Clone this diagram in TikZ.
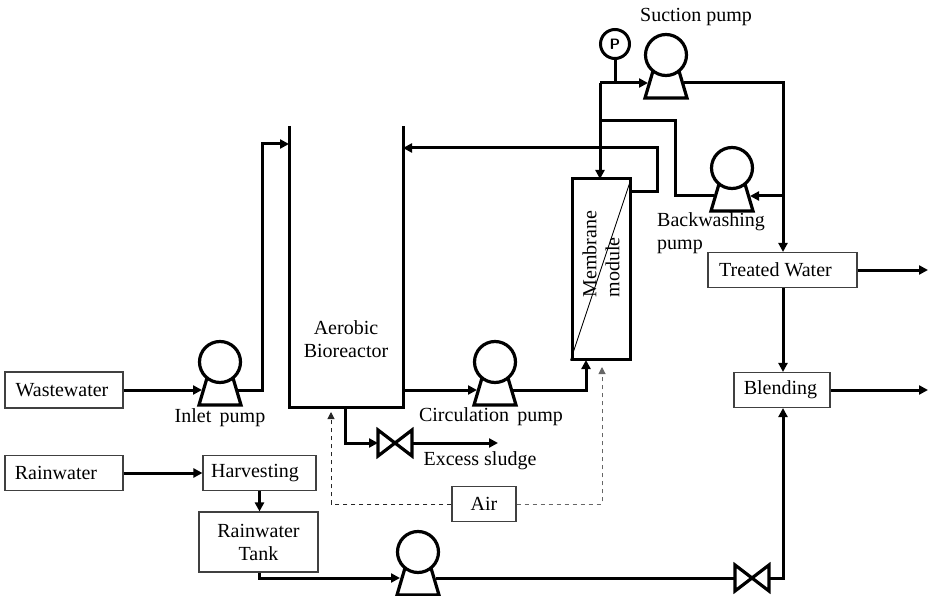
\documentclass[tikz,border=0pt]{standalone}
\usepackage{fontspec}
\setmainfont{Liberation Serif}
\usetikzlibrary{arrows.meta,calc}
\tikzset{
  pipe/.style={line width=3pt,line join=miter},
  flow/.style={pipe,-{Triangle[length=9pt,width=9pt]}},
  air/.style={line width=1pt,dash pattern=on 4pt off 4pt,-{Triangle[length=7pt,width=7pt]}},
  proc/.style={draw=black!75,line width=1.1pt,fill=white,inner sep=0pt,align=center,font=\fontsize{20}{23}\selectfont},
  lab/.style={inner sep=0pt,align=left,font=\fontsize{20}{23}\selectfont},
  pumphead/.style={circle,draw,line width=3.2pt,minimum size=41pt,inner sep=0pt,fill=white},
  symline/.style={line width=3.2pt,line join=miter}
}
\newcommand{\pumpsym}[3]{%
  \draw[symline,fill=white] (#2-13,#3+16) -- (#2-21,#3+43) -- (#2+21,#3+43) -- (#2+13,#3+16);
  \node[pumphead] (#1) at (#2,#3) {};
  \coordinate (#1-l) at (#2-18,#3+28);
  \coordinate (#1-r) at (#2+18,#3+28);
}
\newcommand{\valvesym}[3]{%
  \draw[symline] (#2-17,#3-13) -- (#2+17,#3+13) -- (#2+17,#3-13) -- (#2-17,#3+13) -- cycle;
  \coordinate (#1-l) at (#2-17,#3);
  \coordinate (#1-r) at (#2+17,#3);
}
\begin{document}
\begin{tikzpicture}[x=1pt,y=-1pt]
\useasboundingbox (0,0) rectangle (929,596);
% boxes
\node[proc,minimum width=118pt,minimum height=36pt] (waste) at (64,390) {Wastewater\hspace*{4pt}};
\node[proc,minimum width=118pt,minimum height=35pt] (rain) at (64,473) {Rainwater\hspace*{16pt}};
\node[proc,minimum width=113pt,minimum height=35pt] (harv) at (259.5,473) {Harvesting\hspace*{9pt}};
\node[proc,minimum width=119pt,minimum height=60pt] (tank) at (258.5,542) {Rainwater\\Tank};
\node[proc,minimum width=64pt,minimum height=35pt] (airbox) at (484,504) {Air};
\node[proc,minimum width=149pt,minimum height=35pt] (treated) at (782.5,270) {Treated Water\hspace*{14pt}};
\node[proc,minimum width=96pt,minimum height=35pt] (blend) at (782,390) {Blending\hspace*{3pt}};
% symbols
\pumpsym{inlet}{220}{362}
\pumpsym{circ}{495}{362}
\pumpsym{suction}{666}{55}
\pumpsym{back}{732}{168}
\pumpsym{rainp}{418}{552}
\valvesym{vs}{395}{443}
\valvesym{vr}{752}{578}
\node[circle,draw,line width=3pt,minimum size=29pt,inner sep=0pt,font=\sffamily\bfseries\fontsize{15}{16}\selectfont] (gauge) at (615,44) {P};
% reactor
\coordinate (rtl) at (289,126);
\coordinate (rbl) at (289,407);
\coordinate (rbr) at (403,407);
\coordinate (rtr) at (403,126);
\draw[pipe] (rtl) -- (rbl) -- (rbr) -- (rtr);
\node[lab,align=center] (reactorlab) at (346,339) {Aerobic\\Bioreactor};
% membrane
\node[draw,line width=3pt,minimum width=58pt,minimum height=180pt,inner sep=0pt] (mem) at (601,269) {};
\draw[line width=0.9pt] (mem.north east) -- (mem.south west);
\node[lab,rotate=90,anchor=center,align=left] (memlab) at (601,254) {Membrane\\module};
% connectors
\coordinate (w1) at (262,390); \coordinate (w2) at (262,144); \coordinate (w3) at (289,144);
\draw[flow] (waste.east) -- (inlet-l);
\draw[flow] (inlet-r) -- (w1) -- (w2) -- (w3);
\coordinate (c0) at (403,390);
\draw[flow] (c0) -- (circ-l);
\coordinate (c1) at (586,390); \coordinate (c2) at (586,360);
\draw[flow] (circ-r) -- (c1) -- (c2);
\coordinate (r0) at (630,192); \coordinate (r1) at (657,192); \coordinate (r2) at (657,148); \coordinate (r3) at (403,148);
\draw[flow] (r0) -- (r1) -- (r2) -- (r3);
\coordinate (j0) at (600,83); \coordinate (j1) at (600,179); \coordinate (j2) at (600,121); \coordinate (j3) at (675,121); \coordinate (j4) at (675,196);
\draw[pipe] (gauge.south) -- (gauge.south |- j0);
\draw[flow] (j0) -- (suction-l);
\draw[flow] (j0) -- (j1);
\draw[pipe] (j2) -- (j3) -- (j4) -- (back-l);
\coordinate (t0) at (783,83); \coordinate (t1) at (783,196);
\draw[flow] (suction-r) -- (t0) -- (treated.north -| t0);
\draw[flow] (t1) -- (back-r);
\draw[flow] (treated.east) -- (928,270);
\draw[flow] (treated.south -| t0) -- (blend.north -| t0);
\draw[flow] (blend.east) -- (928,390);
\coordinate (e0) at (345,407); \coordinate (e1) at (345,443);
\draw[flow] (e0) -- (e1) -- (vs-l);
\coordinate (e2) at (498,443);
\draw[flow] (vs-r) -- (e2);
\draw[flow] (rain.east) -- (harv.west);
\draw[flow] (harv.south) -- (harv.south |- tank.north);
\coordinate (b0) at (259,578);
\draw[flow] (tank.south -| b0) -- (b0) -- (rainp-l |- b0);
\draw[pipe] (rainp-r |- b0) -- (vr-l);
\coordinate (b1) at (783,578);
\draw[flow] (vr-r) -- (b1) -- (blend.south -| b1);
\coordinate (a0) at (331,504); \coordinate (a1) at (331,412);
\draw[air,black!85] (airbox.west) -- (a0) -- (a1);
\coordinate (a2) at (602,504); \coordinate (a3) at (602,367);
\draw[air,black!60] (airbox.east) -- (a2) -- (a3);
% labels
\node[lab] (l1) at (220,418) {Inlet\, pump};
\node[lab] (l2) at (491,417) {Circulation\, pump};
\node[lab] (l3) at (480,461) {Excess sludge};
\node[lab] (l4) at (696,17) {Suction pump};
\node[lab,anchor=north west] (l5) at (657,212) {Backwashing\\pump};
\end{tikzpicture}
\end{document}
